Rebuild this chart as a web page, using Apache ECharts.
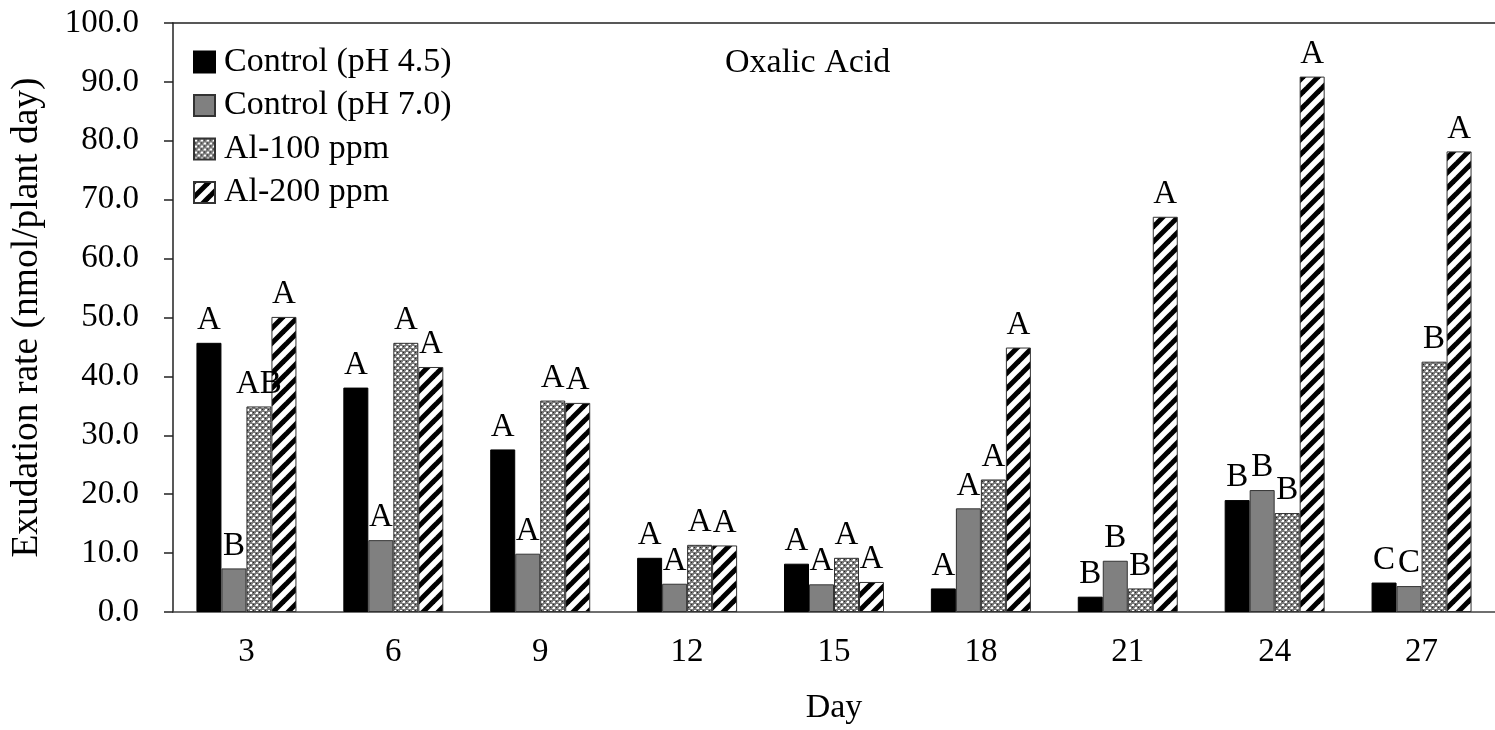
<!DOCTYPE html>
<html>
<head>
<meta charset="utf-8">
<script src="https://cdn.jsdelivr.net/npm/echarts@6/dist/echarts.min.js"></script>
<style>
  html, body { margin: 0; padding: 0; background: #fff; }
  #chart { width: 1495px; height: 730px; }
</style>
</head>
<body>
<div id="chart"></div>
<script>
// Oxalic acid exudation rate by day and treatment
const days = ['3', '6', '9', '12', '15', '18', '21', '24', '27'];
const seriesNames = ['Control (pH 4.5)', 'Control (pH 7.0)', 'Al-100 ppm', 'Al-200 ppm'];

const controlPH45 = [45.7, 38.1, 27.6, 9.2, 8.2, 4.0, 2.6, 19.0, 5.0];
const controlPH70 = [7.4, 12.2, 9.9, 4.8, 4.7, 17.6, 8.7, 20.7, 4.4];
const al100 = [34.9, 45.7, 35.9, 11.4, 9.2, 22.5, 4.0, 16.8, 42.5];
const al200 = [50.1, 41.6, 35.5, 11.3, 5.1, 44.9, 67.1, 90.9, 78.2];

// significance letters above each bar
const lettersPH45 = ['A', 'A', 'A', 'A', 'A', 'A', 'B', 'B', 'C'];
const lettersPH70 = ['B', 'A', 'A', 'A', 'A', 'A', 'B', 'B', 'C'];
const lettersAl100 = ['AB', 'A', 'A', 'A', 'A', 'A', 'B', 'B', 'B'];
const lettersAl200 = ['A', 'A', 'A', 'A', 'A', 'A', 'A', 'A', 'A'];

const yTicks = [0, 10, 20, 30, 40, 50, 60, 70, 80, 90, 100];

const FONT = 'Liberation Serif';

// fill patterns
function dotPattern() {
  const c = document.createElement('canvas');
  c.width = 6; c.height = 6;
  const g = c.getContext('2d');
  g.fillStyle = '#7a7a7a';
  g.fillRect(0, 0, 6, 6);
  g.fillStyle = '#ffffff';
  g.fillRect(1, 1, 2, 2);
  g.fillRect(4, 4, 2, 2);
  g.fillStyle = '#d0d0d0';
  g.fillRect(0, 2, 1, 1);
  g.fillRect(3, 5, 1, 1);
  g.fillStyle = '#262626';
  g.fillRect(4, 1, 1, 1);
  g.fillRect(1, 4, 1, 1);
  return c;
}
function stripePattern() {
  const s = 15;
  const c = document.createElement('canvas');
  c.width = s; c.height = s;
  const g = c.getContext('2d');
  g.fillStyle = '#ffffff';
  g.fillRect(0, 0, s, s);
  g.strokeStyle = '#000000';
  g.lineWidth = 5;
  for (let k = -1; k <= 2; k++) {
    const cc = k * s;
    g.beginPath();
    g.moveTo(cc + 6, -6);
    g.lineTo(cc - s - 6, s + 6);
    g.stroke();
  }
  return c;
}

const fills = [
  '#000000',
  '#808080',
  { image: dotPattern(), repeat: 'repeat' },
  { image: stripePattern(), repeat: 'repeat' }
];
const values = [controlPH45, controlPH70, al100, al200];
const letters = [lettersPH45, lettersPH70, lettersAl100, lettersAl200];

const series = seriesNames.map((name, i) => ({
  name: name,
  type: 'bar',
  barWidth: 25,
  barGap: '0%',
  itemStyle: {
    color: fills[i],
    borderColor: i === 0 ? '#000' : '#333',
    borderWidth: 1
  },
  label: {
    show: true,
    position: 'top',
    distance: 6,
    fontFamily: FONT,
    fontSize: 33,
    color: '#000',
    formatter: p => letters[i][p.dataIndex]
  },
  data: values[i]
}));

const chart = echarts.init(document.getElementById('chart'), null, { renderer: 'canvas' });
chart.setOption({
  animation: false,
  backgroundColor: '#ffffff',
  title: {
    text: 'Oxalic Acid',
    left: 725,
    top: 46,
    padding: 0,
    textStyle: { fontFamily: FONT, fontSize: 34, fontWeight: 'normal', color: '#000' }
  },
  legend: {
    orient: 'vertical',
    left: 193,
    top: 45,
    padding: 0,
    icon: 'rect',
    itemWidth: 21,
    itemHeight: 21,
    itemGap: 9.5,
    data: seriesNames,
    textStyle: { fontFamily: FONT, fontSize: 34, color: '#000', padding: [0, 0, 0, 4], lineHeight: 33.5 }
  },
  grid: { left: 171, right: -8, top: 23, bottom: 115.5, containLabel: false },
  xAxis: [
    {
      type: 'category',
      data: days,
      name: 'Day',
      nameLocation: 'middle',
      nameGap: 79,
      nameTextStyle: { fontFamily: FONT, fontSize: 34, color: '#000' },
      axisLine: { lineStyle: { color: '#404040', width: 1.5 } },
      axisTick: { show: false },
      axisLabel: { fontFamily: FONT, fontSize: 33, color: '#000', margin: 24 }
    },
    {
      type: 'category',
      data: days,
      position: 'top',
      axisLine: { show: true, lineStyle: { color: '#222', width: 1.5 } },
      axisTick: { show: false },
      axisLabel: { show: false }
    }
  ],
  yAxis: {
    type: 'value',
    min: yTicks[0],
    max: yTicks[yTicks.length - 1],
    interval: 10,
    name: 'Exudation rate (nmol/plant day)',
    nameLocation: 'middle',
    nameGap: 127,
    nameTextStyle: { fontFamily: FONT, fontSize: 37.5, color: '#000' },
    axisLine: { show: true, lineStyle: { color: '#222', width: 1.5 } },
    axisTick: { show: true, length: 9, lineStyle: { color: '#222', width: 1.5 } },
    splitLine: { show: false },
    axisLabel: {
      fontFamily: FONT,
      fontSize: 33,
      color: '#000',
      margin: 34,
      formatter: v => v.toFixed(1)
    }
  },
  series: series
});
</script>
</body>
</html>
